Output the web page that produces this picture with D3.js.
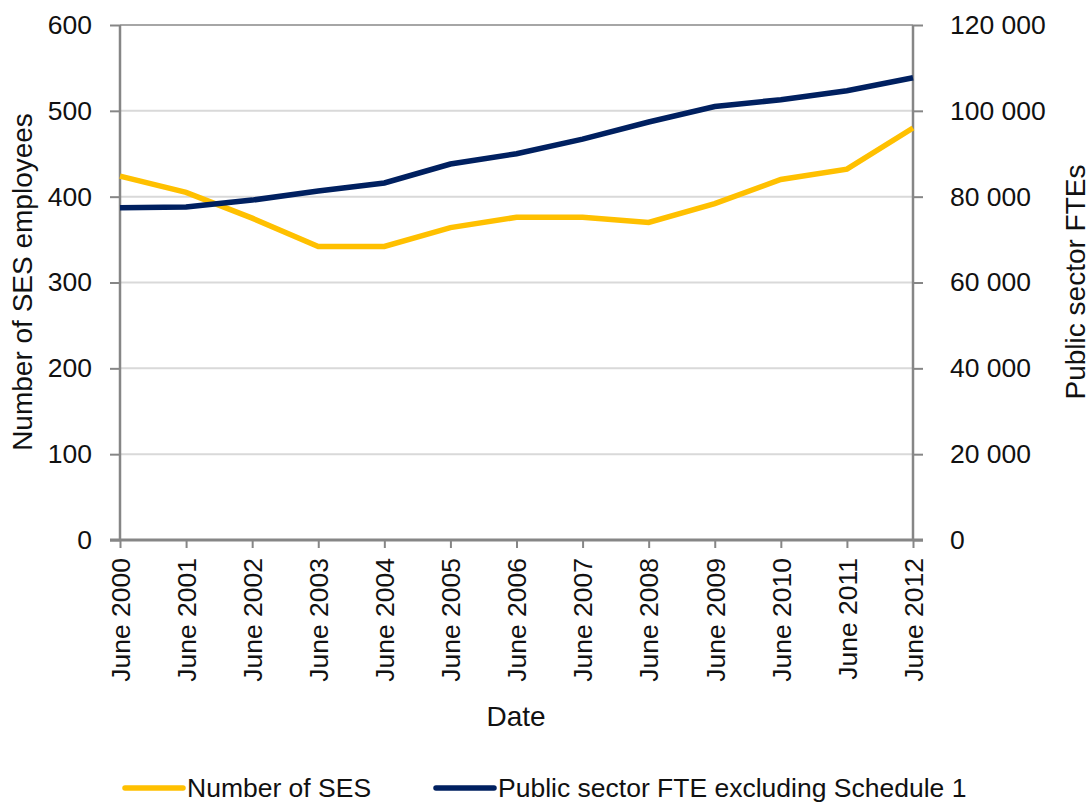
<!DOCTYPE html>
<html>
<head>
<meta charset="utf-8">
<script src="https://cdn.jsdelivr.net/npm/d3@7"></script>
<style>
  body { margin: 0; background: #fff; }
  svg text { font-family: "Liberation Sans", Arial, sans-serif; fill: #111; }
</style>
</head>
<body>
<svg width="1092" height="805"></svg>
<script>
// Data
const dates = ["June 2000", "June 2001", "June 2002", "June 2003", "June 2004", "June 2005",
  "June 2006", "June 2007", "June 2008", "June 2009", "June 2010", "June 2011", "June 2012"];
const sesCount = [424, 405, 375, 342, 342, 364, 376, 376, 370, 392, 420, 432, 480];
const publicFte = [77400, 77600, 79200, 81300, 83200, 87600, 90000, 93400, 97400, 101000, 102600, 104700, 107700];
const leftTicks = [0, 100, 200, 300, 400, 500, 600];
const rightTicks = [0, 20000, 40000, 60000, 80000, 100000, 120000];

const svg = d3.select("svg");
const margin = { top: 25, right: 179, bottom: 265, left: 120 };
const width = 1092 - margin.left - margin.right;
const height = 805 - margin.top - margin.bottom;
const g = svg.append("g").attr("transform", `translate(${margin.left},${margin.top})`);

const x = d3.scalePoint().domain(dates).range([0, width]);
const yLeft = d3.scaleLinear().domain([0, 600]).range([height, 0]);
const yRight = d3.scaleLinear().domain([0, 120000]).range([height, 0]);

const axisColor = "#868686";
const tickFont = "26.5px";
const titleFont = "28px";
const fmt = d => d3.format(",")(d).replace(/,/g, " ");

// Gridlines
g.append("g")
  .selectAll("line")
  .data(leftTicks.filter(d => d > 0))
  .enter()
  .append("line")
  .attr("x1", 0)
  .attr("x2", width)
  .attr("y1", d => yLeft(d))
  .attr("y2", d => yLeft(d))
  .attr("stroke", d => d === 600 ? "#a6a6a6" : "#d9d9d9")
  .attr("stroke-width", 2);

// Left axis
const leftAxis = g.append("g")
  .call(d3.axisLeft(yLeft).tickValues(leftTicks).tickSize(10).tickPadding(18));
leftAxis.select(".domain").attr("stroke", axisColor).attr("stroke-width", 2.5).attr("d", `M0,0V${height}`);
leftAxis.selectAll(".tick line").attr("stroke", axisColor).attr("stroke-width", 2);
leftAxis.selectAll("text").style("font-size", tickFont).attr("fill", "#111");

// Right axis
const rightAxis = g.append("g")
  .attr("transform", `translate(${width},0)`)
  .call(d3.axisRight(yRight).tickValues(rightTicks).tickFormat(fmt).tickSize(10).tickPadding(27));
rightAxis.select(".domain").attr("stroke", axisColor).attr("stroke-width", 2.5).attr("d", `M0,0V${height}`);
rightAxis.selectAll(".tick line").attr("stroke", axisColor).attr("stroke-width", 2);
rightAxis.selectAll("text").style("font-size", tickFont).attr("fill", "#111");

// Bottom axis
const bottomAxis = g.append("g")
  .attr("transform", `translate(0,${height})`)
  .call(d3.axisBottom(x).tickSize(8).tickSizeOuter(0));
bottomAxis.select(".domain").attr("stroke", axisColor).attr("stroke-width", 3).attr("d", `M-10,0H${width + 10}`);
bottomAxis.selectAll(".tick line").attr("stroke", axisColor).attr("stroke-width", 2);
bottomAxis.selectAll("text")
  .style("font-size", tickFont)
  .attr("fill", "#111")
  .attr("transform", "rotate(-90)")
  .attr("text-anchor", "end")
  .attr("x", -18)
  .attr("y", 0)
  .attr("dy", "0.35em");

// Lines
const sesLine = d3.line().x((d, i) => x(dates[i])).y(d => yLeft(d));
const fteLine = d3.line().x((d, i) => x(dates[i])).y(d => yRight(d));

g.append("path")
  .datum(sesCount)
  .attr("fill", "none")
  .attr("stroke", "#ffc000")
  .attr("stroke-width", 5.5)
  .attr("d", sesLine);

g.append("path")
  .datum(publicFte)
  .attr("fill", "none")
  .attr("stroke", "#002060")
  .attr("stroke-width", 5.5)
  .attr("d", fteLine);

// Axis titles
svg.append("text")
  .attr("transform", "translate(32,282) rotate(-90)")
  .attr("text-anchor", "middle")
  .style("font-size", titleFont)
  .text("Number of SES employees");

svg.append("text")
  .attr("transform", "translate(1085,282) rotate(-90)")
  .attr("text-anchor", "middle")
  .style("font-size", titleFont)
  .text("Public sector FTEs");

svg.append("text")
  .attr("x", 516)
  .attr("y", 726)
  .attr("text-anchor", "middle")
  .style("font-size", titleFont)
  .text("Date");

// Legend
const legendItems = [
  { label: "Number of SES", color: "#ffc000", x: 125 },
  { label: "Public sector FTE excluding Schedule 1", color: "#002060", x: 436 }
];
const legend = svg.append("g").attr("transform", "translate(0,788)");
legend.selectAll("line")
  .data(legendItems)
  .enter()
  .append("line")
  .attr("x1", d => d.x)
  .attr("x2", d => d.x + 58)
  .attr("y1", 0)
  .attr("y2", 0)
  .attr("stroke", d => d.color)
  .attr("stroke-width", 5.5)
  .attr("stroke-linecap", "round");
legend.selectAll("text")
  .data(legendItems)
  .enter()
  .append("text")
  .attr("x", d => d.x + 62)
  .attr("y", 0)
  .attr("dy", "0.35em")
  .style("font-size", "26.5px")
  .text(d => d.label);
</script>
</body>
</html>
